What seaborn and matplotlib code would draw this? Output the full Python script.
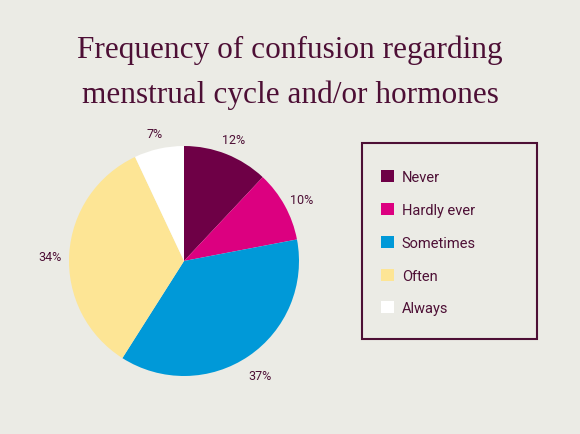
import matplotlib.pyplot as plt
import seaborn as sns
from matplotlib.patches import Rectangle

# data
categories = ["Never", "Hardly ever", "Sometimes", "Often", "Always"]
shares = [12, 10, 37, 34, 7]
colors = ["#6e0046", "#dc0080", "#0099d8", "#fde595", "#ffffff"]
title_lines = ["Frequency of confusion regarding", "menstrual cycle and/or hormones"]

bg = "#ebebe5"
dark = "#4d0f35"

sns.set_theme(style="white")
plt.rcParams["font.family"] = ["Roboto", "DejaVu Sans"]

fig = plt.figure(figsize=(5.8, 4.35), dpi=100)
fig.patch.set_facecolor(bg)

# title, one text per line
for i, line in enumerate(title_lines):
    fig.text(0.5, 1 - (50 + 45 * i) / 435, line, ha="center", va="center",
             fontsize=22.5, color=dark, family=["Liberation Serif", "DejaVu Serif"])

# pie
ax = fig.add_axes([11.5 / 580, 0.5 / 435, 345 / 580, 345 / 435])
ax.set_facecolor(bg)
wedges, texts, autotexts = ax.pie(
    shares, colors=sns.color_palette(colors), startangle=90, counterclock=False,
    autopct=lambda p: f"{p:.0f}%", pctdistance=1.17, radius=1,
    wedgeprops={"linewidth": 0}, textprops={"fontsize": 9, "color": dark})
for t in autotexts:
    x, y = t.get_position()
    t.set_position((x, y - 0.03))
ax.set_xlim(-1.5, 1.5)
ax.set_ylim(-1.5, 1.5)
ax.set_aspect("equal")
ax.axis("off")

# legend box
fig.patches.append(Rectangle((362 / 580, 1 - 340 / 435), 175 / 580, 196 / 435,
                             transform=fig.transFigure, fill=False,
                             edgecolor=dark, linewidth=1.5))
leg = fig.legend(wedges, categories, loc="upper left",
                 bbox_to_anchor=(374 / 580, 1 - 164 / 435), frameon=False,
                 fontsize=10.5, labelspacing=1.28, handlelength=0.9,
                 handleheight=0.9, handletextpad=0.5, borderpad=0)
for t in leg.get_texts():
    t.set_color(dark)

fig.savefig("out.png", dpi=100, facecolor=bg)
